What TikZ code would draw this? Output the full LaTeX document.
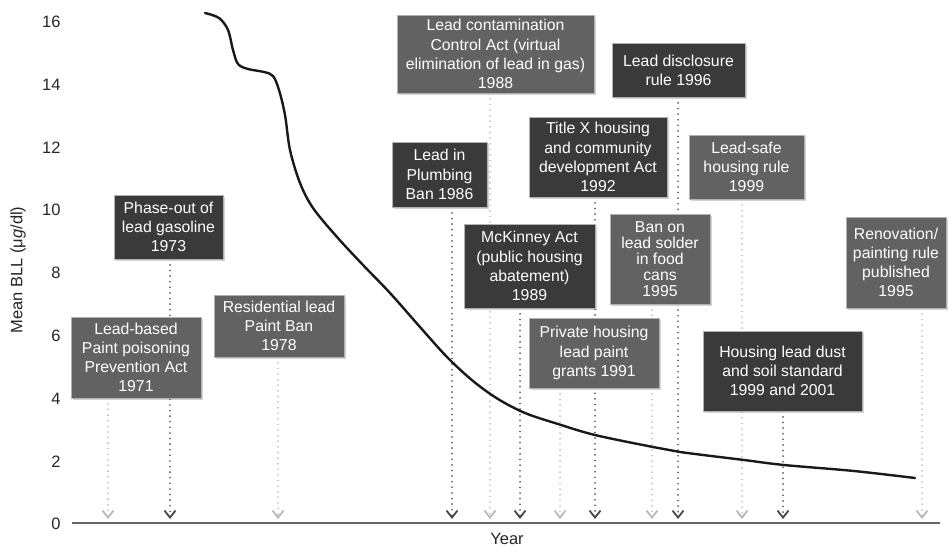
\documentclass[tikz,border=0pt]{standalone}
\usepackage{fontspec}
\setmainfont{Liberation Sans}
\usetikzlibrary{arrows.meta, shadows, backgrounds}

\begin{document}
\begin{tikzpicture}[x=1pt,y=-1pt,
  font=\fontsize{15.8}{19.2}\selectfont,
  evt/.style={rectangle,
       draw=gray!60,
       line width=0.6pt,
       text=white,
       align=center,
       inner sep=1pt,
       drop shadow={shadow xshift=1.6pt,shadow yshift=-1.6pt,opacity=0.35}},
  darkevt/.style={evt, fill=darkbox},
  lightevt/.style={evt, fill=lightbox},
  dotline/.style={line width=1.8pt,
       line cap=round,
       dash pattern=on 0pt off 5.6pt,
       -{Straight Barb[length=7pt,width=11pt]}},
  darrow/.style={dotline, draw=darkdot},
  larrow/.style={dotline, draw=lightdot},
  ticklab/.style={anchor=east, font=\fontsize{16.5}{19}\selectfont, text=black!85}]
\definecolor{darkbox}{RGB}{58,58,58};
\definecolor{lightbox}{RGB}{98,98,98};
\definecolor{darkdot}{RGB}{72,72,72};
\definecolor{lightdot}{RGB}{185,185,185};
\useasboundingbox (0,0) rectangle (949,548);

% y axis labels
\node [ticklab] (t0) at (64,524) {0};
\node [ticklab] (t2) at (64,461.25) {2};
\node [ticklab] (t4) at (64,398.5) {4};
\node [ticklab] (t6) at (64,335.75) {6};
\node [ticklab] (t8) at (64,273) {8};
\node [ticklab] (t10) at (64,210.25) {10};
\node [ticklab] (t12) at (64,147.5) {12};
\node [ticklab] (t14) at (64,84.75) {14};
\node [ticklab] (t16) at (64,22) {16};
\node [rotate=90,
       font=\fontsize{16.5}{19}\selectfont,
       text=black!85] (ylab) at (18,270) {Mean BLL (μ\textit{g}/dl)};
\node [font=\fontsize{16.5}{19}\selectfont,
       inner sep=0pt,
       text=black!85] (xlab) at (507,539) {Year};

% events
\node [lightevt, minimum width=130, minimum height=81] (b71) at (136,357.5) {Lead-based\\Paint poisoning\\Prevention Act\\1971};
\node [darkevt, minimum width=109, minimum height=64] (b73) at (168.5,227) {Phase-out of\\lead gasoline\\1973};
\node [lightevt, minimum width=130, minimum height=62] (b78) at (279,326) {Residential lead\\Paint Ban\\1978};
\node [darkevt, minimum width=95, minimum height=65] (b86) at (439.5,174.5) {Lead in\\Plumbing\\Ban 1986};
\node [lightevt, minimum width=197, minimum height=78] (b88) at (495.5,54) {Lead contamination\\Control Act (virtual\\elimination of lead in gas)\\1988};
\node [darkevt, minimum width=131, minimum height=84] (b89) at (529.5,266) {McKinney Act\\(public housing\\abatement)\\1989};
\node [lightevt, minimum width=130, minimum height=70] (b91) at (594,353) {Private housing\\lead paint\\grants 1991};
\node [darkevt, minimum width=138, minimum height=80] (b92) at (598,157) {Title X housing\\and community\\development Act\\1992};
\node [lightevt, minimum width=100, minimum height=90,
       font=\fontsize{15.8}{16}\selectfont] (b95) at (660,259) {Ban on\\lead solder\\in food\\cans\\1995};
\node [darkevt, minimum width=133, minimum height=54] (b96) at (678.5,70) {Lead disclosure\\rule 1996};
\node [lightevt, minimum width=115, minimum height=64] (b99) at (746.5,167) {Lead-safe\\housing rule\\1999};
\node [darkevt, minimum width=159, minimum height=80] (b01) at (782.5,371) {Housing lead dust\\and soil standard\\1999 and 2001};
\node [lightevt, minimum width=100, minimum height=91] (bren) at (896,262.5) {Renovation/\\painting rule\\published\\1995};

% arrow ends on the axis
\coordinate (a71) at (108,519);
\coordinate (a73) at (170,519);
\coordinate (a78) at (278,519);
\coordinate (a86) at (452,519);
\coordinate (a88) at (490,519);
\coordinate (a89) at (520,519);
\coordinate (a91) at (560,519);
\coordinate (a92) at (595,519);
\coordinate (a95) at (652,519);
\coordinate (a96) at (678,519);
\coordinate (a99) at (742,519);
\coordinate (a01) at (783,519);
\coordinate (aren) at (922,519);
\coordinate (x0) at (72,523);
\coordinate (x1) at (940,523);

\begin{scope}[on background layer]
\draw [larrow] (b71.south -| a71) -- (a71);
\draw [darrow] (b73.south -| a73) -- (a73);
\draw [larrow] (b78.south -| a78) -- (a78);
\draw [darrow] (b86.south -| a86) -- (a86);
\draw [larrow] (b88.south -| a88) -- (a88);
\draw [darrow] (b89.south -| a89) -- (a89);
\draw [larrow] (b91.south -| a91) -- (a91);
\draw [darrow] (b92.south -| a92) -- (a92);
\draw [larrow] (b95.south -| a95) -- (a95);
\draw [darrow] (b96.south -| a96) -- (a96);
\draw [larrow] (b99.south -| a99) -- (a99);
\draw [darrow] (b01.south -| a01) -- (a01);
\draw [larrow] (bren.south -| aren) -- (aren);
\end{scope}

\draw [line width=2.6pt, draw=black!60] (x0) -- (x1);
\draw [line width=2.4pt, black!90, line cap=round] plot [smooth, tension=0.55] coordinates {
  (205,13) (219,18) (228,30) (233,50) (238,64) (248,69) (264,72) (273,76)
  (279,90) (285,115) (290,150) (300,183) (313,208) (337,237) (363,265)
  (390,293) (420,327) (447,357) (473,381) (498,399) (525,413) (558,424)
  (595,435) (653,447) (680,452) (744,460) (784,465) (854,471) (915,478)};
\end{tikzpicture}
\end{document}
